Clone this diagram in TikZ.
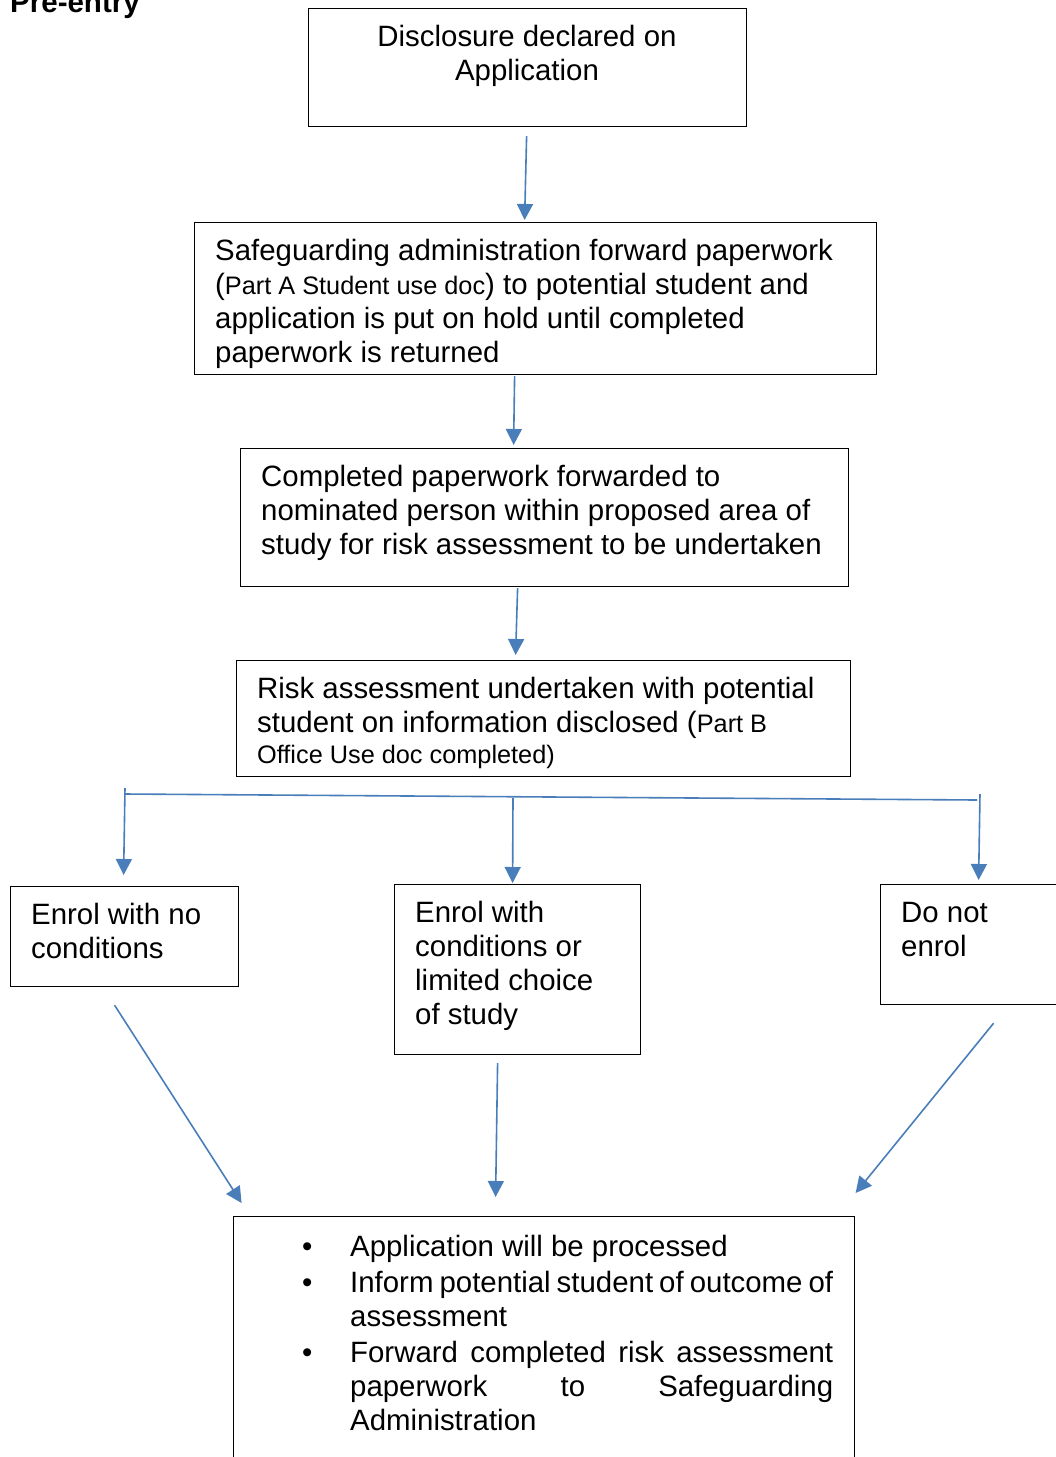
\documentclass[tikz,border=0pt]{standalone}
\usepackage{fontspec}
\setmainfont{Liberation Sans}
\usetikzlibrary{arrows.meta}
\definecolor{arrblue}{HTML}{4A7EBB}
\newcommand\smalltxt{\fontsize{25.3}{30}\selectfont}
\newcommand\bitem[1]{\par\hangindent=48pt\hangafter=1\noindent\makebox[48pt][l]{\strut\textbullet}#1\par}
\tikzset{
  box/.style={draw=black, line width=1.2pt, anchor=north west, inner sep=0pt},
  txt/.style={anchor=north west, inner sep=0pt, align=left, font=\fontsize{29.4}{34}\selectfont},
  arr/.style={draw=arrblue, line width=1.6pt, -{Triangle[width=16pt,length=16pt]}},
  ln/.style={draw=arrblue, line width=1.6pt}
}
\begin{document}
\begin{tikzpicture}[x=1pt,y=-1pt]
\useasboundingbox (0,0) rectangle (1056,1457);
\clip (0,0) rectangle (1056,1457);
\fill[white] (0,0) rectangle (1056,1457);

\node[anchor=base west, inner sep=0pt, font=\bfseries\fontsize{29.5}{34}\selectfont] (title) at (10,12) {Pre-entry};

% boxes
\node[box, minimum width=438pt, minimum height=118pt] (b1) at (308,8) {};
\node[box, minimum width=682pt, minimum height=152pt] (b2) at (194,222) {};
\node[box, minimum width=608pt, minimum height=138pt] (b3) at (240,448) {};
\node[box, minimum width=614pt, minimum height=116pt] (b4) at (236,660) {};
\node[box, minimum width=228pt, minimum height=100pt] (b5) at (10,886) {};
\node[box, minimum width=246pt, minimum height=170pt] (b6) at (394,884) {};
\node[box, minimum width=190pt, minimum height=120pt] (b7) at (880,884) {};
\node[box, minimum width=621pt, minimum height=270pt] (b8) at (233,1216) {};

% texts
\node[txt, anchor=north, align=center] (t1) at (527,22) {\strut Disclosure declared on\\Application};
\node[txt] (t2) at (215,236) {\strut Safeguarding administration forward paperwork\\
({\smalltxt Part A Student use doc}) to potential student and\\
application is put on hold until completed\\
paperwork is returned};
\node[txt] (t3) at (261,462) {\strut Completed paperwork forwarded to\\
nominated person within proposed area of\\
study for risk assessment to be undertaken};
\node[txt] (t4) at (257,674) {\strut Risk assessment undertaken with potential\\
student on information disclosed ({\smalltxt Part B}\\[-3pt]
{\smalltxt Office Use doc completed)}};
\node[txt] (t5) at (31,900) {\strut Enrol with no\\conditions};
\node[txt] (t6) at (415,898) {\strut Enrol with\\conditions or\\limited choice\\of study};
\node[txt] (t7) at (901,898) {\strut Do not\\enrol};
\node[txt, text width=531pt, align=justify] (t8) at (302,1220) {\hyphenpenalty=10000\parskip=2pt
\bitem{Application will be processed}
\bitem{Inform potential student of outcome of\linebreak assessment}
\bitem{Forward completed risk assessment\linebreak paperwork to Safeguarding\linebreak Administration}};

% connectors
\draw[arr] ([xshift=-1pt,yshift=-9pt]b1.south) -- ([xshift=-11pt,yshift=2pt]b2.north);
\draw[arr] ([xshift=-21pt,yshift=-1pt]b2.south) -- ([xshift=-31pt,yshift=3pt]b3.north);
\draw[arr] ([xshift=-27pt,yshift=-1pt]b3.south) -- ([xshift=-28pt,yshift=5pt]b4.north);

\coordinate (hl) at (125,794);
\coordinate (hr) at (977,800);
\coordinate (dl) at (125,788);
\coordinate (dm) at (513,798);
\coordinate (dr) at (980,794);
\draw[ln] (hl) -- (hr);
\draw[arr] (dl) -- ([xshift=-1pt,yshift=11pt]b5.north);
\draw[arr] (dm) -- ([xshift=-5pt,yshift=1pt]b6.north);
\draw[arr] (dr) -- ([xshift=3pt,yshift=4pt]b7.north);

\draw[arr] ([xshift=-10pt,yshift=-18pt]b5.south) -- ([xshift=-302.5pt,yshift=13pt]b8.north);
\draw[arr] ([xshift=-20pt,yshift=-8pt]b6.south) -- ([xshift=-48.5pt,yshift=19pt]b8.north);
\draw[arr] ([xshift=18pt,yshift=-18pt]b7.south) -- ([xshift=311.5pt,yshift=23pt]b8.north);
\end{tikzpicture}
\end{document}
